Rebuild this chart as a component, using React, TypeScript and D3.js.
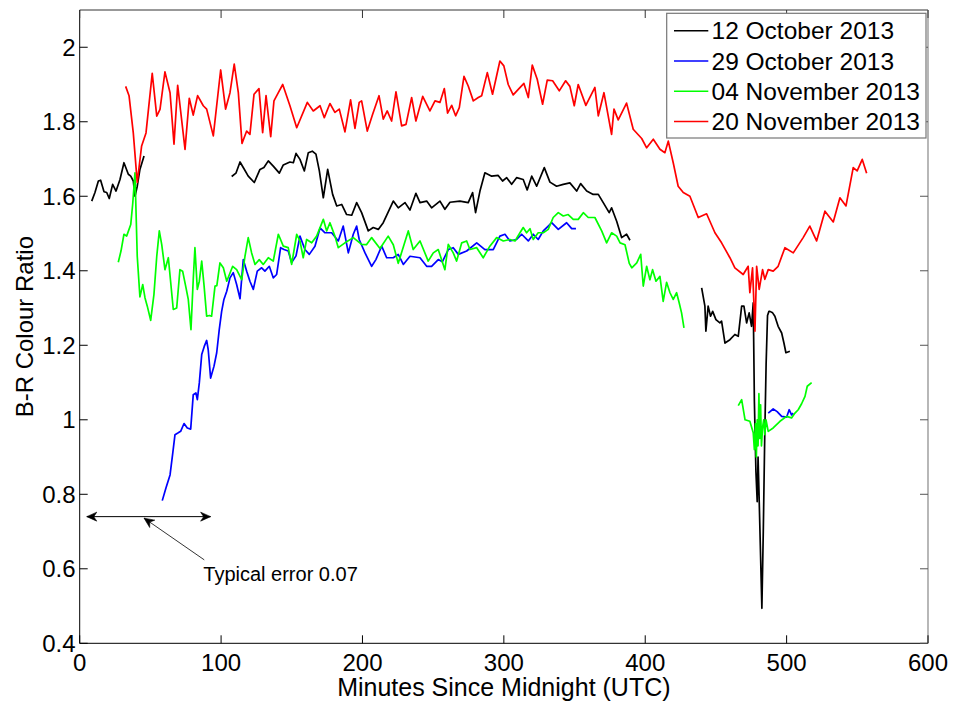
import React from "react";
import * as d3 from "d3";

// ---------- DATA ----------
const xTicks = [0, 100, 200, 300, 400, 500, 600];
const yTicks = [0.4, 0.6, 0.8, 1.0, 1.2, 1.4, 1.6, 1.8, 2.0];
const xDomain = [0, 600];
const yDomain = [0.4, 2.1];

const legendLabels = ["12 October 2013", "29 October 2013", "04 November 2013", "20 November 2013"];
const seriesColors = ["#000000", "#0000ff", "#00ff00", "#ff0000"];

// 12 October 2013 (black), three segments
const oct12a: [number, number][] = [
  [8.5, 1.587], [10.8, 1.61], [13.2, 1.641], [14.8, 1.643], [17.2, 1.612], [19.1, 1.61], [20.9, 1.594],
  [23.3, 1.632], [25.7, 1.614], [28.5, 1.645], [31.3, 1.69], [34.4, 1.659], [36.1, 1.654], [37.9, 1.641],
  [39.1, 1.6], [40.7, 1.627], [42.6, 1.672], [45.5, 1.708],
];
const oct12b: [number, number][] = [
  [107.5, 1.653], [110.5, 1.662], [113.4, 1.692], [116.2, 1.674], [119.2, 1.654], [123.5, 1.637], [127.5, 1.672],
  [130.3, 1.677], [133.4, 1.695], [136.9, 1.681], [141.2, 1.662], [144, 1.684], [148.7, 1.692], [151.1, 1.69],
  [153, 1.715], [155.8, 1.699], [158.9, 1.668], [161.7, 1.717], [164.5, 1.721], [167.1, 1.713], [169.5, 1.668],
  [172.3, 1.596], [175.4, 1.672], [178.9, 1.605], [181.8, 1.574], [185.3, 1.578], [188.8, 1.551], [192.4, 1.549],
  [195.9, 1.583], [199.4, 1.556], [204.1, 1.507], [207.6, 1.516], [211.2, 1.511], [214.7, 1.529], [221.8, 1.587],
  [225.3, 1.569], [230.1, 1.583], [233.6, 1.563], [237.8, 1.608], [240.7, 1.583], [245.4, 1.587], [248.9, 1.569],
  [254.8, 1.587], [258.3, 1.565], [261.9, 1.584], [268.9, 1.587], [274.8, 1.583], [277.9, 1.61], [280, 1.556],
  [283.1, 1.614], [286.6, 1.663], [291.4, 1.654], [296, 1.656], [299.1, 1.641], [302, 1.65], [305.5, 1.632],
  [309, 1.65], [313.7, 1.645], [316.5, 1.617], [319.7, 1.654], [323.2, 1.627], [328.6, 1.677], [332.6, 1.638],
  [337.3, 1.627], [342, 1.632], [346.7, 1.636], [351.5, 1.614], [354.3, 1.634], [358.6, 1.614], [363.2, 1.605],
  [366.8, 1.605], [370.3, 1.583], [374.5, 1.556], [376.2, 1.569], [379.8, 1.533], [383.3, 1.489], [386.8, 1.498],
  [389.2, 1.482],
];
const oct12c: [number, number][] = [
  [439.9, 1.354], [442.2, 1.305], [442.9, 1.238], [444.5, 1.305], [446.2, 1.278], [447.7, 1.291], [450, 1.269],
  [452.8, 1.26], [454, 1.265], [456.4, 1.206], [459.9, 1.215], [463.4, 1.229], [465.8, 1.224], [468.2, 1.305],
  [469.8, 1.305], [471.7, 1.26], [473.5, 1.287], [475.2, 1.251], [476.4, 1.314], [477.2, 1.05], [478.3, 0.86],
  [479.2, 0.78], [479.8, 0.9], [480.5, 0.8], [482.5, 0.494], [483.5, 0.7], [484.5, 0.95], [485.5, 1.15],
  [486.5, 1.28], [487.5, 1.291], [488.2, 1.291], [490.1, 1.287], [491.7, 1.278], [494, 1.251], [496.5, 1.233],
  [498.1, 1.206], [499.5, 1.18], [502.3, 1.184],
];

// 29 October 2013 (blue), two segments
const oct29a: [number, number][] = [
  [58.4, 0.783], [61, 0.817], [63.9, 0.852], [65.8, 0.91], [67.4, 0.96], [69.7, 0.965], [71.4, 0.969],
  [73.8, 0.99], [76.1, 0.978], [78.5, 0.975], [80.3, 1.067], [82.2, 1.072], [83.2, 1.054], [84.6, 1.099],
  [86.3, 1.175], [88.1, 1.197], [89.8, 1.213], [90.9, 1.188], [92.6, 1.112], [95, 1.144], [96.9, 1.18],
  [98.7, 1.242], [100.4, 1.291], [102, 1.323], [104, 1.345], [106.3, 1.381], [108.6, 1.395], [111, 1.363],
  [113.4, 1.325], [115.7, 1.43], [118.1, 1.399], [120.4, 1.372], [122.8, 1.35], [125.6, 1.399], [128.7, 1.408],
  [131, 1.399], [134.1, 1.412], [136.9, 1.381], [139.3, 1.39], [142.1, 1.462], [144.5, 1.457], [147.5, 1.453],
  [149.9, 1.422], [153, 1.44], [155.8, 1.493], [159.3, 1.457], [162.4, 1.444], [166.4, 1.466], [170, 1.515],
  [173.5, 1.502], [178.2, 1.502], [182.9, 1.48], [186.4, 1.52], [190, 1.448], [193.5, 1.498], [195.9, 1.52],
  [197.7, 1.484], [201.8, 1.448], [206.5, 1.412], [209.5, 1.43], [213.6, 1.466], [217.1, 1.435], [221.8, 1.435],
  [225.3, 1.444], [228.9, 1.417], [233.6, 1.439], [240.7, 1.435], [245.4, 1.412], [248.9, 1.412], [253.6, 1.43],
  [256.5, 1.424], [260.7, 1.457], [264.2, 1.462], [267.8, 1.444], [273.7, 1.453], [280.8, 1.475], [286.6, 1.457],
  [292.5, 1.457], [297.2, 1.493], [300.8, 1.498], [304.3, 1.48], [309, 1.484], [312.6, 1.498], [317.3, 1.48],
  [320.8, 1.498], [324.3, 1.484], [327.9, 1.507], [331.4, 1.52], [333.8, 1.529], [338.5, 1.511], [344.4, 1.529],
  [348, 1.513], [351, 1.513],
];
const oct29b: [number, number][] = [
  [487, 1.018], [490.5, 1.029], [493.3, 1.022], [496.5, 1.009], [500, 1.007], [501.8, 1.027], [503.5, 1.013],
  [504.6, 1.018],
];

// 04 November 2013 (green), two segments
const nov04a: [number, number][] = [
  [27.3, 1.423], [29.2, 1.453], [31.3, 1.498], [33.2, 1.493], [36.1, 1.524], [37.5, 1.58], [39.1, 1.663],
  [40.7, 1.439], [42.6, 1.33], [44.6, 1.363], [46.2, 1.327], [47.8, 1.305], [50.2, 1.267], [52.5, 1.336],
  [54.5, 1.439], [56.3, 1.507], [58, 1.471], [60.3, 1.403], [62.7, 1.435], [66.2, 1.296], [68.6, 1.3],
  [70.9, 1.403], [72.8, 1.399], [75.2, 1.354], [76.8, 1.323], [78.7, 1.242], [80.3, 1.376], [81.5, 1.462],
  [83.2, 1.35], [84.6, 1.372], [86.3, 1.426], [87.9, 1.363], [89.8, 1.278], [91.7, 1.28], [93.3, 1.278],
  [95.7, 1.359], [97, 1.36], [99.2, 1.421], [101.6, 1.408], [104, 1.372], [108.2, 1.412], [111, 1.403],
  [114.6, 1.376], [116.9, 1.439], [119.2, 1.489], [121.6, 1.448], [124, 1.417], [127, 1.43], [129.8, 1.417],
  [133.4, 1.435], [136.9, 1.426], [140.5, 1.498], [144, 1.466], [147.5, 1.462], [149.9, 1.417], [153.5, 1.498],
  [155.8, 1.48], [158.1, 1.435], [160.5, 1.484], [164.1, 1.475], [167.6, 1.493], [172.3, 1.538], [174.7, 1.507],
  [177, 1.529], [180.5, 1.493], [182.9, 1.462], [187.6, 1.475], [193.5, 1.489], [199.4, 1.471], [202.8, 1.47],
  [206.5, 1.489], [212.4, 1.46], [218.2, 1.493], [221.8, 1.47], [225.3, 1.42], [232.4, 1.507], [235.9, 1.457],
  [240.7, 1.48], [246.5, 1.426], [250.1, 1.448], [253.6, 1.457], [258.3, 1.403], [260.7, 1.471], [264.2, 1.448],
  [266.6, 1.426], [270.2, 1.475], [273.7, 1.48], [276, 1.457], [280.8, 1.462], [285.4, 1.435], [290.1, 1.466],
  [294.9, 1.489], [299.6, 1.48], [304.3, 1.484], [307.9, 1.48], [311.4, 1.502], [313.7, 1.516], [316.1, 1.502],
  [318.5, 1.513], [320.8, 1.484], [324.3, 1.502], [327.9, 1.502], [331.4, 1.511], [334.9, 1.543], [338.5, 1.556],
  [342, 1.547], [345.5, 1.551], [349.1, 1.538], [352.6, 1.538], [356.2, 1.556], [359.7, 1.543], [364.4, 1.543],
  [369.2, 1.507], [372.7, 1.475], [376.2, 1.502], [379.8, 1.493], [382.2, 1.475], [385.7, 1.47], [388.7, 1.42],
  [390.5, 1.408], [394, 1.421], [396.8, 1.444], [398.6, 1.359], [401, 1.412], [403.3, 1.376], [405.2, 1.403],
  [407.6, 1.372], [410.4, 1.385], [412.7, 1.318], [415.1, 1.369], [417.5, 1.341], [419.8, 1.323], [422.2, 1.341],
  [424, 1.314], [425.7, 1.287], [427.4, 1.247],
];
const nov04b: [number, number][] = [
  [465.8, 1.038], [468.2, 1.054], [470.6, 1.0], [474, 0.996], [476.4, 0.965], [477.2, 0.92], [478, 0.99],
  [478.6, 0.9], [479.2, 1.0], [479.8, 0.93], [480.4, 1.07], [481, 0.95], [481.6, 1.04], [482.2, 0.93],
  [483, 0.98], [483.8, 1.0], [484.6, 0.96], [485.4, 1.0], [487, 0.969], [490.5, 0.978], [495.3, 0.996],
  [500, 1.009], [503.5, 1.005], [505.9, 1.018], [508.2, 1.027], [510.6, 1.043], [513, 1.063], [514.6, 1.09],
  [517.7, 1.1],
];

// 20 November 2013 (red)
const nov20: [number, number][] = [
  [32.5, 1.895], [34.9, 1.87], [37.9, 1.77], [40.7, 1.637], [43.8, 1.735], [46.9, 1.77], [51.3, 1.93],
  [54.5, 1.815], [56.8, 1.833], [60.3, 1.934], [63.9, 1.878], [66.7, 1.74], [69.3, 1.898], [74.5, 1.726],
  [77.5, 1.863], [80.3, 1.818], [83.4, 1.87], [87.4, 1.843], [89.8, 1.834], [94.5, 1.762], [99.7, 1.939],
  [103.2, 1.834], [106.3, 1.878], [109.3, 1.955], [112.2, 1.878], [114.8, 1.742], [118.1, 1.775], [120.4, 1.766],
  [123.3, 1.874], [126.8, 1.889], [129.4, 1.771], [131.8, 1.87], [135.1, 1.76], [137.4, 1.856], [140.5, 1.878],
  [143.6, 1.9], [148.7, 1.843], [153.5, 1.784], [161, 1.852], [165.2, 1.829], [170, 1.843], [173, 1.811],
  [177, 1.849], [180.5, 1.825], [183.6, 1.834], [187.6, 1.773], [191.6, 1.859], [194.7, 1.782], [197.7, 1.852],
  [199.4, 1.856], [203.4, 1.775], [207.2, 1.82], [211.7, 1.87], [214.7, 1.807], [217.5, 1.829], [220.6, 1.802],
  [223.7, 1.88], [227.7, 1.789], [230.8, 1.793], [234.8, 1.865], [237.8, 1.802], [242.6, 1.868], [247.7, 1.829],
  [251.3, 1.856], [254.8, 1.852], [257.9, 1.889], [260.2, 1.823], [263.1, 1.844], [265.9, 1.816], [268.5, 1.838],
  [271.8, 1.922], [274.8, 1.896], [278.4, 1.856], [281.9, 1.865], [284.3, 1.87], [288.3, 1.932], [292, 1.874],
  [297.2, 1.963], [300, 1.95], [303.1, 1.9], [306.6, 1.872], [310.2, 1.887], [314.2, 1.903], [317.3, 1.865],
  [320.1, 1.952], [323.6, 1.914], [327.4, 1.847], [330.7, 1.912], [334.5, 1.91], [339.2, 1.883], [343.7, 1.91],
  [346.7, 1.895], [349.8, 1.843], [352.6, 1.9], [358, 1.844], [364.4, 1.892], [366.8, 1.816], [370.8, 1.878],
  [376.2, 1.766], [377.9, 1.834], [380.9, 1.805], [386.8, 1.85], [391.5, 1.78], [397.5, 1.755], [401, 1.73],
  [405.7, 1.753], [410.4, 1.726], [413.9, 1.717], [416.3, 1.748], [419.8, 1.69], [423.3, 1.627], [426.9, 1.61],
  [431.6, 1.6], [437.5, 1.543], [443.4, 1.553], [449.3, 1.502], [454, 1.475], [459.9, 1.435], [463.4, 1.408],
  [469.3, 1.39], [472.8, 1.412], [474, 1.341], [475.9, 1.408], [477.6, 1.238], [478.8, 1.412], [480.6, 1.35],
  [483, 1.403], [484.6, 1.377], [487, 1.403], [490.5, 1.399], [494, 1.412], [498.8, 1.462], [504.7, 1.448],
  [511.7, 1.489], [516.4, 1.52], [521.2, 1.48], [527.1, 1.56], [533, 1.531], [537.7, 1.596], [542, 1.574],
  [547.1, 1.677], [549.9, 1.668], [553.5, 1.699], [556.6, 1.662],
];

// Annotation (data coordinates)
const errorArrow = { x1: 5, x2: 92.6, y: 0.74 };
const pointerArrow = { fromX: 88.1, fromY: 0.624, toX: 45.5, toY: 0.736 };
const annotationText = { x: 87.4, y: 0.568, label: "Typical error 0.07" };

const seriesSegments: [number, number][][][] = [
  [oct12a, oct12b, oct12c],
  [oct29a, oct29b],
  [nov04a, nov04b],
  [nov20],
];

// ---------- CHART ----------
const W = 954;
const H = 704;
const L = 79.7, R = 928, T = 10, B = 643.3;
const FONT = "'Liberation Sans', Arial, Helvetica, sans-serif";

function fmtY(v: number) {
  return Math.abs(v - Math.round(v)) < 1e-9 ? String(Math.round(v)) : v.toFixed(1);
}

function ArrowHead({ x, y, angle }: { x: number; y: number; angle: number }) {
  const len = 10, half = 4.5, notch = 7;
  const ca = Math.cos(angle), sa = Math.sin(angle);
  const p = (dx: number, dy: number) => [x + dx * ca - dy * sa, y + dx * sa + dy * ca];
  const a = p(-len, -half), b = p(-notch, 0), c = p(-len, half);
  return <path d={`M${x},${y}L${a[0]},${a[1]}L${b[0]},${b[1]}L${c[0]},${c[1]}Z`} fill="#000" stroke="#000" strokeWidth={0.6} />;
}

export default function App() {
  const x = d3.scaleLinear().domain(xDomain).range([L, R]);
  const y = d3.scaleLinear().domain(yDomain).range([B, T]);
  const line = d3.line<[number, number]>().x((d) => x(d[0])).y((d) => y(d[1]));

  const ax1 = x(errorArrow.x1), ax2 = x(errorArrow.x2), ay = y(errorArrow.y);
  const px1 = x(pointerArrow.fromX), py1 = y(pointerArrow.fromY);
  const px2 = x(pointerArrow.toX), py2 = y(pointerArrow.toY);
  const pAngle = Math.atan2(py2 - py1, px2 - px1);

  const legX = 666.7, legY = 13.3, legW = 259.3, legH = 124.7;

  return (
    <svg width={W} height={H} style={{ position: "absolute", left: 0, top: 0, background: "#fff" }} fontFamily={FONT}>
      <rect x={0} y={0} width={W} height={H} fill="#fff" />
      {seriesSegments.map((segs, si) =>
        segs.map((seg, k) => (
          <path key={`${si}-${k}`} d={line(seg) || ""} fill="none" stroke={seriesColors[si]} strokeWidth={1.7} strokeLinejoin="round" />
        ))
      )}

      <line x1={L} y1={T} x2={R} y2={T} stroke="#333" strokeWidth={1} />
      <line x1={R} y1={T} x2={R} y2={B} stroke="#888" strokeWidth={1.2} />
      <line x1={L} y1={B} x2={R} y2={B} stroke="#000" strokeWidth={1} />
      <line x1={L} y1={T} x2={L} y2={B} stroke="#000" strokeWidth={1} />

      {xTicks.map((t) => (
        <g key={`xt${t}`}>
          <line x1={x(t)} x2={x(t)} y1={B} y2={B - 8} stroke="#000" />
          <line x1={x(t)} x2={x(t)} y1={T} y2={T + 8} stroke="#333" />
          <text x={x(t)} y={670.5} textAnchor="middle" fontSize={24} fill="#000">{t}</text>
        </g>
      ))}
      {yTicks.map((t) => (
        <g key={`yt${t}`}>
          <line x1={L} x2={L + 8} y1={y(t)} y2={y(t)} stroke="#000" />
          <line x1={R} x2={R - 8} y1={y(t)} y2={y(t)} stroke="#555" />
          <text x={75.5} y={y(t) + 8.5} textAnchor="end" fontSize={24} fill="#000">{fmtY(t)}</text>
        </g>
      ))}

      <text x={(L + R) / 2} y={696} textAnchor="middle" fontSize={25} fill="#000">Minutes Since Midnight (UTC)</text>
      <text transform={`translate(33,${(T + B) / 2}) rotate(-90)`} textAnchor="middle" fontSize={24} fill="#000">B-R Colour Ratio</text>

      <line x1={ax1} y1={ay} x2={ax2} y2={ay} stroke="#000" strokeWidth={1} />
      <ArrowHead x={ax1} y={ay} angle={Math.PI} />
      <ArrowHead x={ax2} y={ay} angle={0} />
      <line x1={px1} y1={py1} x2={px2} y2={py2} stroke="#000" strokeWidth={0.8} />
      <ArrowHead x={px2} y={py2} angle={pAngle} />
      <text x={x(annotationText.x)} y={y(annotationText.y)} fontSize={20} fill="#000">{annotationText.label}</text>

      <rect x={legX} y={legY} width={legW} height={legH} fill="#fff" stroke="#777" strokeWidth={1.2} />
      {legendLabels.map((lab, i) => {
        const cy = 30.7 + i * 30.3;
        return (
          <g key={lab}>
            <line x1={674} x2={708.3} y1={cy} y2={cy} stroke={seriesColors[i]} strokeWidth={1.5} />
            <text x={711.5} y={cy + 8.5} fontSize={24.5} fill="#000">{lab}</text>
          </g>
        );
      })}
    </svg>
  );
}
